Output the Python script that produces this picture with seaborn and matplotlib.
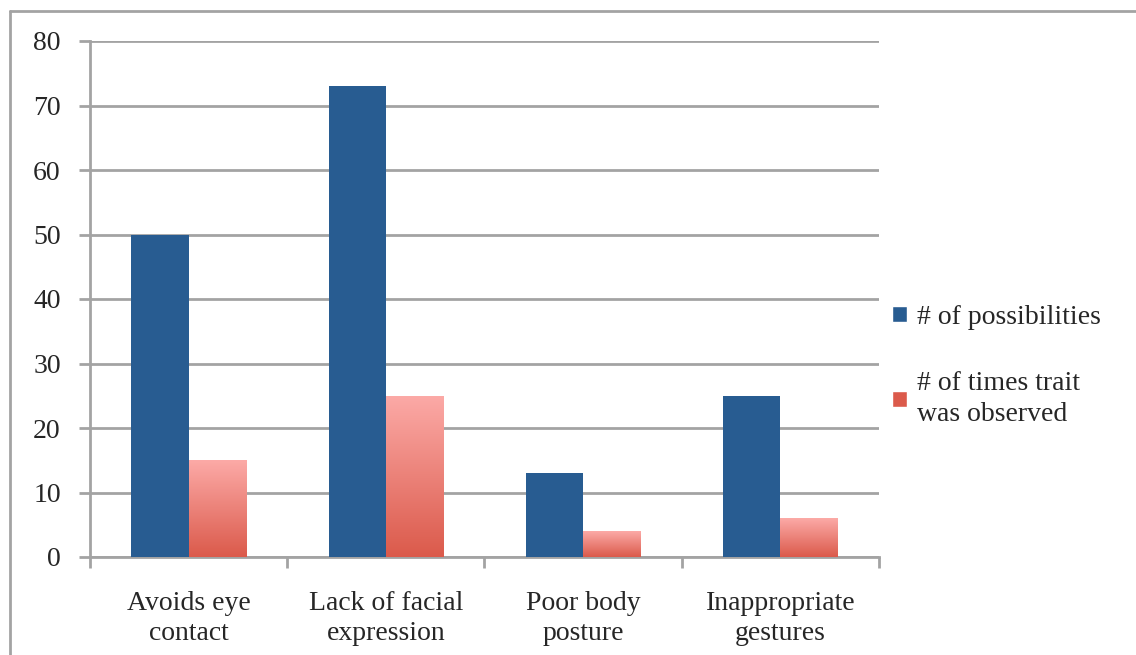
import numpy as np
import pandas as pd
import matplotlib
matplotlib.use("Agg")
import matplotlib.pyplot as plt
from matplotlib.lines import Line2D
from matplotlib.colors import LinearSegmentedColormap
import seaborn as sns

# data
categories = ["Avoids eye\ncontact", "Lack of facial\nexpression", "Poor body\nposture", "Inappropriate\ngestures"]
possibilities = [50, 73, 13, 25]
observed = [15, 25, 4, 6]
series_names = ["# of possibilities", "# of times trait\nwas observed"]

df = pd.DataFrame({
    "category": categories * 2,
    "value": possibilities + observed,
    "series": [series_names[0]] * 4 + [series_names[1]] * 4,
})

sns.set_style("white")
plt.rcParams["font.family"] = ["Liberation Serif", "DejaVu Serif"]

blue = "#285c91"
red_top = "#fcaaa7"
red_bot = "#db5a4b"
grid_col = "#a3a3a3"

fig = plt.figure(figsize=(11.36, 6.55), dpi=100)
ax = fig.add_axes([90 / 1136, 1 - 557 / 655, (879 - 90) / 1136, (557 - 41) / 655])

sns.barplot(data=df, x="category", y="value", hue="series", order=categories,
            hue_order=series_names, palette=[blue, red_bot], width=0.58, gap=0,
            saturation=1, ax=ax, legend=False, zorder=3, linewidth=0)

# gradient fill on the red bars
cmap = LinearSegmentedColormap.from_list("pinkred", [red_bot, red_top])
grad = np.linspace(0, 1, 256).reshape(-1, 1)
for p in ax.patches[len(categories):]:
    x0, y0 = p.get_x(), p.get_y()
    w, h = p.get_width(), p.get_height()
    im = ax.imshow(grad, cmap=cmap, origin="lower", aspect="auto",
                   extent=[x0, x0 + w, y0, y0 + h], zorder=3.5)
    im.set_clip_path(p)

ax.set_xlim(-0.5, 3.5)
ax.set_ylim(0, 80)
ax.set_yticks(range(0, 81, 10))
ax.set_xticks([-0.5, 0.5, 1.5, 2.5, 3.5], minor=True)
ax.set_xlabel("")
ax.set_ylabel("")

ax.yaxis.grid(True, color=grid_col, linewidth=2)
ax.set_axisbelow(True)
for s in ["top", "right"]:
    ax.spines[s].set_visible(False)
for s in ["left", "bottom"]:
    ax.spines[s].set_color(grid_col)
    ax.spines[s].set_linewidth(2)

ax.tick_params(axis="y", which="major", left=True, length=8, width=2, color=grid_col,
               labelsize=20, pad=13)
ax.tick_params(axis="x", which="major", bottom=False, labelsize=20, pad=21)
ax.tick_params(axis="x", which="minor", bottom=True, length=8, width=2, color=grid_col)
for lbl in ax.get_xticklabels():
    lbl.set_linespacing(1.25)
    lbl.set_multialignment("center")

# legend
handles = [plt.Rectangle((0, 0), 1, 1, facecolor=blue),
           plt.Rectangle((0, 0), 1, 1, facecolor=red_bot)]
leg = fig.legend(handles, series_names, loc="center left", bbox_to_anchor=(867 / 1136, 1 - 366 / 655),
                 frameon=False, fontsize=20, handlelength=0.55, handleheight=0.55,
                 handletextpad=0.35, labelspacing=1.5)
for t in leg.get_texts():
    t.set_linespacing(1.3)

# outer frame
fig.add_artist(Line2D([10 / 1136, 10 / 1136], [0, 1 - 11 / 655], color=grid_col, linewidth=2))
fig.add_artist(Line2D([10 / 1136, 1], [1 - 11 / 655, 1 - 11 / 655], color=grid_col, linewidth=2))

fig.savefig("out.png", dpi=100)
